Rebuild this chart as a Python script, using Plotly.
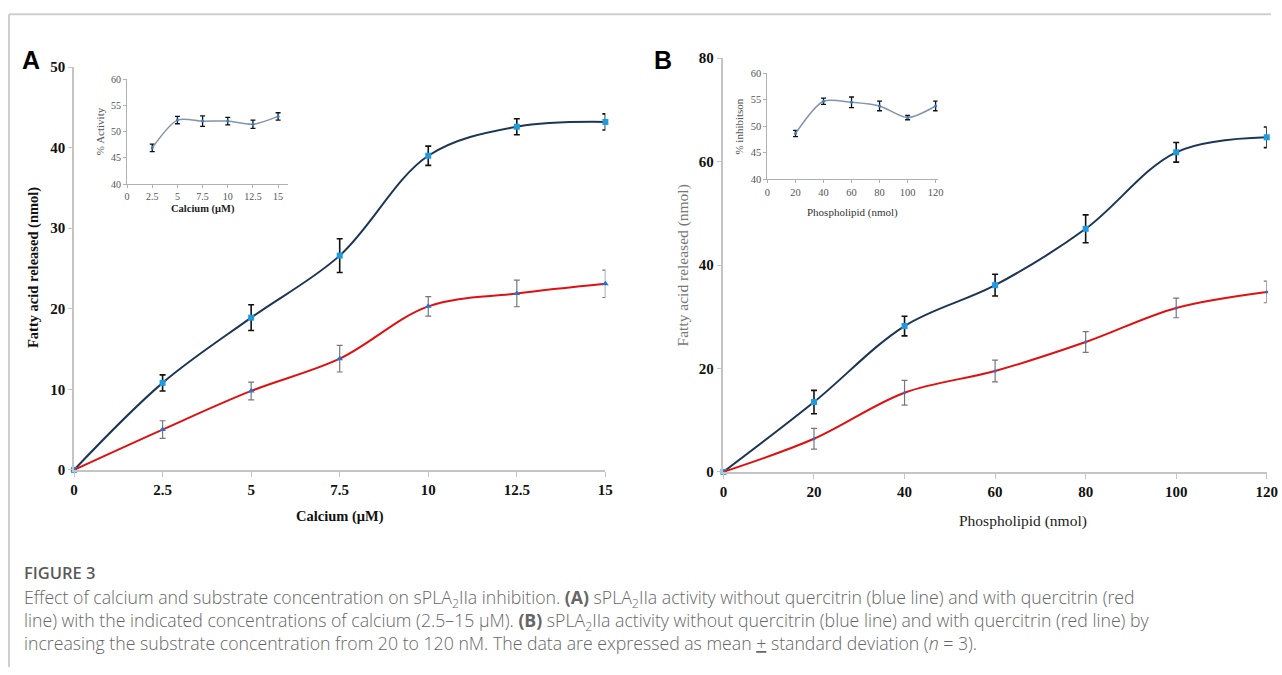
import plotly.graph_objects as go

W, H = 1282, 675
# measured mapping between figure pixels and photographed pixels (photo = O + S * fig)
SX, OX = 0.9877, 4.0
SY, OY = 0.977, 7.8

# ---------------- data ----------------
ca_x = [0, 2.5, 5, 7.5, 10, 12.5, 15]
ca_without = [0, 10.8, 18.9, 26.6, 39.0, 42.6, 43.2]
ca_without_sd = [0, 1.0, 1.6, 2.1, 1.2, 1.0, 1.0]
ca_with = [0, 5.0, 9.8, 13.8, 20.3, 21.9, 23.1]
ca_with_sd = [0, 1.1, 1.1, 1.65, 1.2, 1.65, 1.7]

ins_ca_x = [2.5, 5, 7.5, 10, 12.5, 15]
ins_ca_activity = [46.9, 52.2, 52.0, 52.0, 51.4, 52.9]
ins_ca_sd = [0.7, 0.7, 1.0, 0.7, 0.8, 0.7]

pl_x = [0, 20, 40, 60, 80, 100, 120]
pl_without = [0, 13.5, 28.2, 36.1, 47.0, 61.8, 64.7]
pl_without_sd = [0, 2.25, 1.9, 2.1, 2.7, 1.9, 2.0]
pl_with = [0, 6.4, 15.3, 19.5, 25.1, 31.7, 34.8]
pl_with_sd = [0, 2.0, 2.4, 2.1, 2.0, 1.9, 2.1]

ins_pl_x = [20, 40, 60, 80, 100, 120]
ins_pl_inhib = [48.6, 54.7, 54.5, 53.8, 51.6, 53.8]
ins_pl_sd = [0.6, 0.6, 1.0, 0.9, 0.4, 0.9]

ca_ticks = [0, 2.5, 5, 7.5, 10, 12.5, 15]
ca_ticklabels = ["0", "2.5", "5", "7.5", "10", "12.5", "15"]
pl_ticks = [0, 20, 40, 60, 80, 100, 120]

# -------------- helpers ---------------
def dx(px):
    return ((px - OX) / SX) / W

def dy(py):
    return 1 - ((py - OY) / SY) / H

SERIF = "Liberation Serif"
SANS = "Open Sans"
NAVY = "#1d3557"
RED = "#e01010"

fig = go.Figure()

def sd_arr(vals):
    return [v if v > 0 else None for v in vals]

# Panel A main
fig.add_trace(go.Scatter(x=ca_x, y=ca_without, mode="lines+markers", xaxis="x", yaxis="y",
                         line=dict(color=NAVY, width=2, shape="spline", smoothing=1),
                         marker=dict(symbol="square", size=6, color="#1e9be0"),
                         error_y=dict(type="data", array=sd_arr(ca_without_sd), visible=True,
                                      color="#111", thickness=1.6, width=3),
                         cliponaxis=False, showlegend=False))
fig.add_trace(go.Scatter(x=ca_x, y=ca_with, mode="lines+markers", xaxis="x", yaxis="y",
                         line=dict(color=RED, width=2, shape="spline", smoothing=1),
                         marker=dict(symbol="triangle-up", size=6, color="#2a6fd6"),
                         error_y=dict(type="data", array=sd_arr(ca_with_sd), visible=True,
                                      color="#777", thickness=1.2, width=3),
                         cliponaxis=False, showlegend=False))
# Panel A inset
fig.add_trace(go.Scatter(x=ins_ca_x, y=ins_ca_activity, mode="lines+markers", xaxis="x2", yaxis="y2",
                         line=dict(color="#8494ab", width=1.5, shape="spline", smoothing=0.8),
                         marker=dict(symbol="circle", size=3, color="#2a7fd6"),
                         error_y=dict(type="data", array=ins_ca_sd, visible=True,
                                      color="#111", thickness=1.3, width=2.5),
                         cliponaxis=False, showlegend=False))
# Panel B main
fig.add_trace(go.Scatter(x=pl_x, y=pl_without, mode="lines+markers", xaxis="x3", yaxis="y3",
                         line=dict(color=NAVY, width=2, shape="spline", smoothing=1),
                         marker=dict(symbol="square", size=6, color="#1e9be0"),
                         error_y=dict(type="data", array=sd_arr(pl_without_sd), visible=True,
                                      color="#111", thickness=1.6, width=3),
                         cliponaxis=False, showlegend=False))
fig.add_trace(go.Scatter(x=pl_x, y=pl_with, mode="lines+markers", xaxis="x3", yaxis="y3",
                         line=dict(color=RED, width=2, shape="spline", smoothing=1),
                         marker=dict(symbol="circle", size=3, color="#2a6fd6"),
                         error_y=dict(type="data", array=sd_arr(pl_with_sd), visible=True,
                                      color="#777", thickness=1.2, width=3),
                         cliponaxis=False, showlegend=False))
# Panel B inset
fig.add_trace(go.Scatter(x=ins_pl_x, y=ins_pl_inhib, mode="lines+markers", xaxis="x4", yaxis="y4",
                         line=dict(color="#8494ab", width=1.5, shape="spline", smoothing=0.8),
                         marker=dict(symbol="circle", size=3, color="#2a7fd6"),
                         error_y=dict(type="data", array=ins_pl_sd, visible=True,
                                      color="#111", thickness=1.3, width=2.5),
                         cliponaxis=False, showlegend=False))

main_tick = dict(family=SERIF, size=15, color="#111", weight="bold")
ins_tick = dict(family=SERIF, size=10, color="#555")
ins_tick_b = dict(family=SERIF, size=10.5, color="#555")

def main_axis(domain, rng, tickvals, ticktext, anchor):
    return dict(domain=domain, range=rng, tickvals=tickvals, ticktext=ticktext, anchor=anchor,
                showgrid=False, zeroline=False, showline=True, linecolor="#c4c4c4", linewidth=1.5,
                ticks="outside", ticklen=5, tickcolor="#c4c4c4", tickfont=main_tick, fixedrange=True)

def ins_axis(domain, rng, tickvals, ticktext, anchor, font):
    return dict(domain=domain, range=rng, tickvals=tickvals, ticktext=ticktext, anchor=anchor,
                showgrid=False, zeroline=False, showline=True, linecolor="#b0b0b0", linewidth=1,
                ticks="outside", ticklen=3, tickcolor="#b0b0b0", tickfont=font, fixedrange=True)

layout = dict(
    width=W, height=H, margin=dict(l=0, r=0, t=0, b=0),
    paper_bgcolor="white", plot_bgcolor="rgba(0,0,0,0)",
    xaxis=main_axis([dx(74), dx(605)], [0, 15], ca_ticks, ca_ticklabels, "y"),
    yaxis=main_axis([dy(470), dy(67)], [0, 50], [0, 10, 20, 30, 40, 50],
                    ["0", "10", "20", "30", "40", "50"], "x"),
    xaxis2=ins_axis([dx(127), dx(288)], [0, 16], ca_ticks, ca_ticklabels, "y2", ins_tick),
    yaxis2=ins_axis([dy(184), dy(79)], [40, 60], [40, 45, 50, 55, 60],
                    ["40", "45", "50", "55", "60"], "x2", ins_tick),
    xaxis3=main_axis([dx(723), dx(1266)], [0, 120], pl_ticks, [str(v) for v in pl_ticks], "y3"),
    yaxis3=main_axis([dy(472), dy(58)], [0, 80], [0, 20, 40, 60, 80],
                     ["0", "20", "40", "60", "80"], "x3"),
    xaxis4=ins_axis([dx(767), dx(937)], [0, 121.4], pl_ticks, [str(v) for v in pl_ticks], "y4", ins_tick_b),
    yaxis4=ins_axis([dy(179), dy(73)], [40, 60], [40, 45, 50, 55, 60],
                    ["40", "45", "50", "55", "60"], "x4", ins_tick_b),
)
layout["yaxis"]["ticklen"] = 4
fig.update_layout(**layout)

def ann(text, x, y, size, color="#111", family=SERIF, bold=False, angle=0, xanchor="center",
        weight=None, align="center"):
    fig.add_annotation(text=text, x=dx(x), y=dy(y), xref="paper", yref="paper",
                       showarrow=False, textangle=angle, xanchor=xanchor, yanchor="middle", align=align,
                       font=dict(family=family, size=size, color=color,
                                 weight=weight if weight else ("bold" if bold else "normal")))

# axis titles
ann("Fatty acid released (nmol)", 33, 268, 14.5, bold=True, angle=-90)
ann("Calcium (μM)", 340, 517, 14.5, bold=True)
ann("Fatty acid released (nmol)", 683, 265, 15.5, color="#777", angle=-90)
ann("Phospholipid (nmol)", 1022, 521, 15.5, color="#222")
# inset titles
ann("% Activity", 100, 131, 11, color="#555", angle=-90)
ann("Calcium (μM)", 203, 209, 10.5, bold=True, color="#222")
ann("% inhibitson", 739, 126, 11, color="#555", angle=-90)
ann("Phospholipid (nmol)", 852, 212, 11, color="#333")
# panel letters
ann("A", 31, 60, 25, family="Liberation Sans", bold=True, color="#000")
ann("B", 663, 60, 25, family="Liberation Sans", bold=True, color="#000")

# caption
ann("FIGURE 3", 22, 573, 16.5, family=SANS, color="#5a5a5a", xanchor="left", weight=600)
caption = ("Effect of calcium and substrate concentration on sPLA<sub>2</sub>IIa inhibition. <b>(A)</b> "
           "sPLA<sub>2</sub>IIa activity without quercitrin (blue line) and with quercitrin (red<br>"
           "line) with the indicated concentrations of calcium (2.5–15 μM). <b>(B)</b> sPLA<sub>2</sub>IIa "
           "activity without quercitrin (blue line) and with quercitrin (red line) by<br>"
           "increasing the substrate concentration from 20 to 120 nM. The data are expressed as mean "
           "<u>+</u> standard deviation (<i>n</i> = 3).")
ann(caption, 22, 620.5, 17.7, family=SANS, color="#666", xanchor="left", weight=300, align="left")

# page frame lines
fig.add_shape(type="line", xref="paper", yref="paper", x0=dx(9), x1=1, y0=dy(14), y1=dy(14),
              line=dict(color="#cfcfcf", width=2))
fig.add_shape(type="line", xref="paper", yref="paper", x0=dx(9), x1=dx(9), y0=dy(14), y1=0,
              line=dict(color="#cfcfcf", width=2))

fig.write_html("out.html")
